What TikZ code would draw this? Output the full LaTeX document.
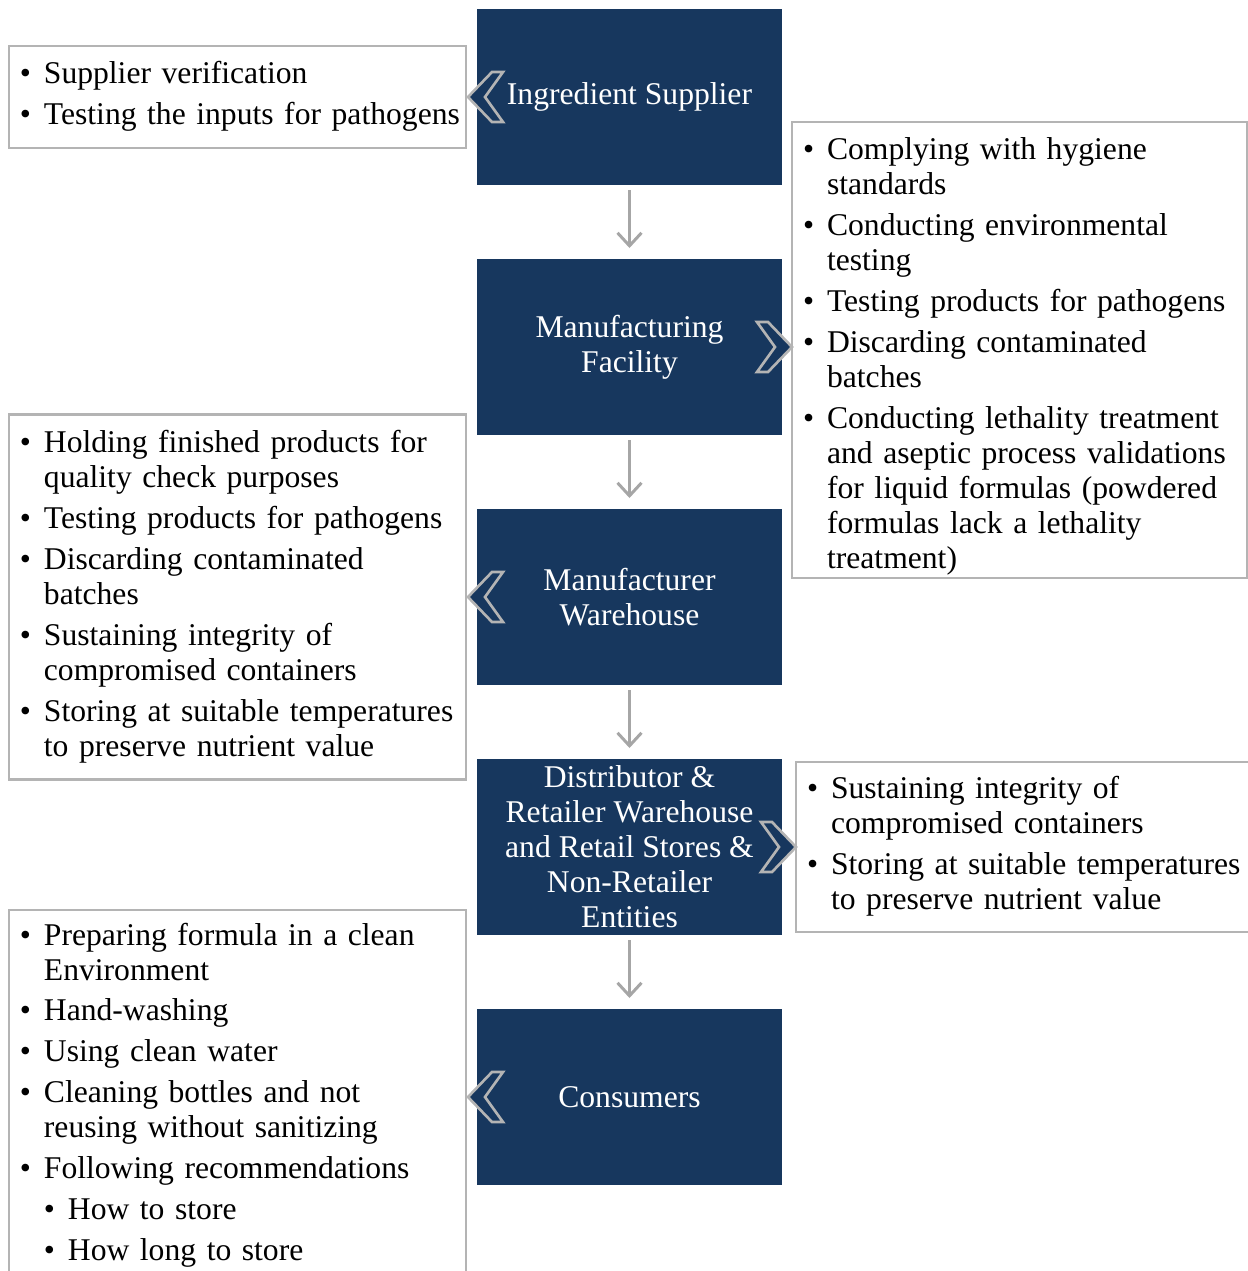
\documentclass[tikz,border=0pt]{standalone}
\usepackage{fontspec}
\setmainfont{Liberation Serif}
\usetikzlibrary{positioning,arrows.meta}
\definecolor{navy}{RGB}{23,55,94}
\definecolor{edgegray}{RGB}{180,180,180}
\definecolor{arrgray}{RGB}{166,166,166}
\newcommand{\bitem}[1]{\par\noindent\hangindent=0.48cm\hangafter=1\leftskip=0.12cm\parskip=3.4pt\hyphenpenalty=10000\makebox[0.48cm][l]{\textbullet}#1}
\newcommand{\bsubitem}[1]{\par\noindent\hangindent=0.96cm\hangafter=1\leftskip=0.12cm\parskip=3.4pt\hspace*{0.48cm}\makebox[0.48cm][l]{\textbullet}#1}
\newcommand{\tailgap}[1]{\par\vspace*{#1}\hrule height 0pt}
\tikzset{
  stage/.style={fill=navy, text=white, minimum width=6.1cm, minimum height=3.52cm,
    align=center, inner sep=2pt, outer sep=0pt, font=\fontsize{18}{19.9}\selectfont},
  notes/.style={draw=edgegray, line width=1.2pt, fill=white, align=left,
    inner xsep=0.1cm, inner ysep=0.03cm, font=\fontsize{18}{19.9}\selectfont},
  chev/.style={draw=edgegray, fill=navy, line width=1.5pt, line join=miter},
  flow/.style={draw=arrgray, line width=1.7pt, -{Straight Barb[length=0.26cm,width=0.48cm]},
    shorten <=0.1cm, shorten >=0.22cm}
}
\begin{document}
\begin{tikzpicture}
  \useasboundingbox (0,0) rectangle (24.96,-25.42);
  % chain of stages
  \node[stage] (sup) at (12.59,-1.94) {Ingredient Supplier};
  \node[stage, below=1.48cm of sup] (fac) {Manufacturing\\Facility};
  \node[stage, below=1.48cm of fac] (mwh) {Manufacturer\\Warehouse};
  \node[stage, below=1.48cm of mwh] (dist) {Distributor \&\\Retailer Warehouse\\and Retail Stores \&\\Non-Retailer\\Entities};
  \node[stage, below=1.48cm of dist] (cons) {Consumers};
  % notes beside the stages
  \node[notes, text width=8.94cm, minimum height=2.04cm, left=0.2cm of sup] (supnote) {%
    \bitem{Supplier verification}
    \bitem{Testing the inputs for pathogens}\tailgap{0.28cm}};
  \node[notes, text width=8.9cm, minimum height=9.12cm, right=0.18cm of fac, yshift=-0.06cm] (facnote) {%
    \bitem{Complying with hygiene\newline standards}
    \bitem{Conducting environmental\newline testing}
    \bitem{Testing products for pathogens}
    \bitem{Discarding contaminated\newline batches}
    \bitem{Conducting lethality treatment\newline and aseptic process validations\newline for liquid formulas (powdered\newline formulas lack a lethality\newline treatment)}\par};
  \node[notes, text width=8.94cm, minimum height=7.3cm, left=0.2cm of mwh] (mwhnote) {%
    \bitem{Holding finished products for\newline quality check purposes}
    \bitem{Testing products for pathogens}
    \bitem{Discarding contaminated\newline batches}
    \bitem{Sustaining integrity of\newline compromised containers}
    \bitem{Storing at suitable temperatures\newline to preserve nutrient value}\tailgap{0.26cm}};
  \node[notes, text width=8.9cm, minimum height=3.36cm, right=0.26cm of dist] (distnote) {%
    \bitem{Sustaining integrity of\newline compromised containers}
    \bitem{Storing at suitable temperatures\newline to preserve nutrient value}\tailgap{0.28cm}};
  \node[notes, text width=8.94cm, inner ysep=0cm, anchor=north east] (consnote)
    at ([xshift=-0.2cm,yshift=3.76cm]cons.west) {%
    \bitem{Preparing formula in a clean\newline Environment}
    \bitem{Hand-washing}
    \bitem{Using clean water}
    \bitem{Cleaning bottles and not\newline reusing without sanitizing}
    \bitem{Following recommendations}
    \bsubitem{How to store}
    \bsubitem{How long to store}\tailgap{1cm}};
  % chevrons
  \draw[chev] ([xshift=-0.18cm]sup.west) -- ++(0.48,0.5) -- ++(0.22,0) -- ++(-0.36,-0.5) -- ++(0.36,-0.5) -- ++(-0.22,0) -- cycle;
  \draw[chev] ([xshift=0.2cm]fac.east) -- ++(-0.48,0.5) -- ++(-0.22,0) -- ++(0.36,-0.5) -- ++(-0.36,-0.5) -- ++(0.22,0) -- cycle;
  \draw[chev] ([xshift=-0.18cm]mwh.west) -- ++(0.48,0.5) -- ++(0.22,0) -- ++(-0.36,-0.5) -- ++(0.36,-0.5) -- ++(-0.22,0) -- cycle;
  \draw[chev] ([xshift=0.28cm]dist.east) -- ++(-0.48,0.5) -- ++(-0.22,0) -- ++(0.36,-0.5) -- ++(-0.36,-0.5) -- ++(0.22,0) -- cycle;
  \draw[chev] ([xshift=-0.18cm]cons.west) -- ++(0.48,0.5) -- ++(0.22,0) -- ++(-0.36,-0.5) -- ++(0.36,-0.5) -- ++(-0.22,0) -- cycle;
  % arrows
  \draw[flow] (sup) -- (fac);
  \draw[flow] (fac) -- (mwh);
  \draw[flow] (mwh) -- (dist);
  \draw[flow] (dist) -- (cons);
\end{tikzpicture}
\end{document}
